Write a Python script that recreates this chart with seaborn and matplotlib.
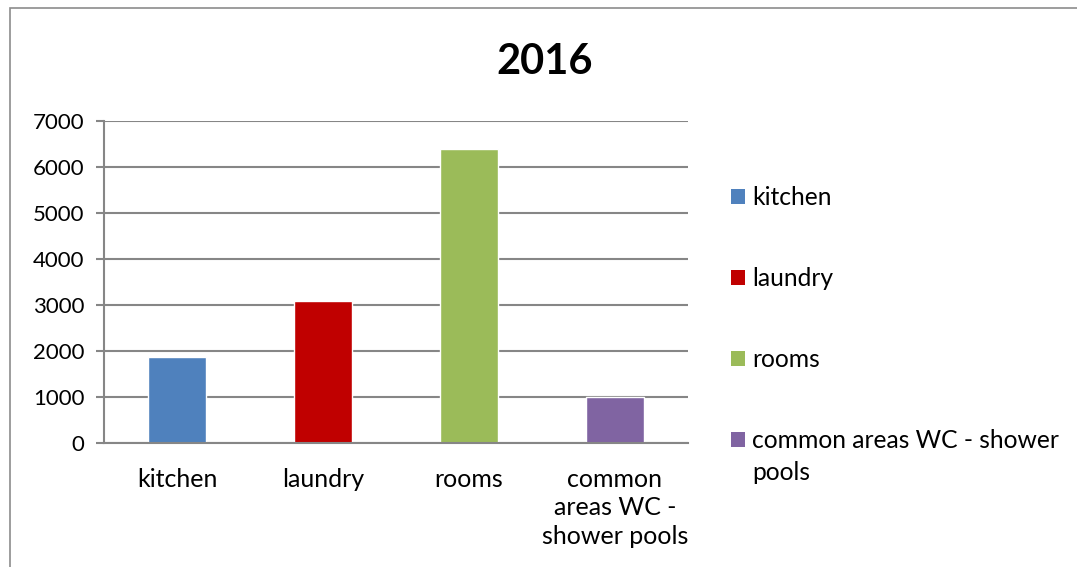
import matplotlib
matplotlib.use("Agg")
import matplotlib.pyplot as plt
import seaborn as sns
import pandas as pd
from matplotlib.patches import Rectangle

categories = ["kitchen", "laundry", "rooms", "common areas WC - shower pools"]
values = [1860, 3075, 6395, 995]
tick_labels = ["kitchen", "laundry", "rooms", "common\nareas WC -\nshower pools"]
legend_labels = ["kitchen", "laundry", "rooms", "common areas WC - shower"]
legend_wrap = "pools"
colors = ["#4F81BD", "#C00000", "#9BBB59", "#8064A2"]
title = "2016"
yticks = [0, 1000, 2000, 3000, 4000, 5000, 6000, 7000]

sns.set_theme(style="white")
plt.rcParams["font.family"] = ["Lato", "DejaVu Sans"]
plt.rcParams["text.color"] = "black"

W, H = 1077, 567
fig = plt.figure(figsize=(W / 100, H / 100), dpi=100)
ax = fig.add_axes([104 / W, 1 - 442.7 / H, (688 - 104) / W, (442.7 - 121) / H])

df = pd.DataFrame({"category": categories, "value": values})
sns.barplot(data=df, x="category", y="value", hue="category", palette=colors,
            width=0.4, dodge=False, legend=False, ax=ax, saturation=1)

grid_c = "#868686"
ax.set_ylim(0, 7000)
ax.set_xlim(-0.5, 3.5)
ax.set_yticks(yticks)
ax.set_yticklabels([str(v) for v in yticks], fontsize=16)
ax.yaxis.grid(True, color=grid_c, linewidth=1.5)
ax.set_axisbelow(True)
ax.set_xticks(range(len(categories)))
ax.set_xticklabels(tick_labels, fontsize=18, linespacing=1.3)
ax.set_xticks([-0.5, 0.5, 1.5, 2.5, 3.5], minor=True)
ax.tick_params(axis="x", which="major", length=0, pad=18, labelcolor="black")
ax.tick_params(axis="x", which="minor", length=6, width=1.5, color=grid_c, direction="out")
ax.tick_params(axis="y", length=6, width=1.5, color=grid_c, direction="out", pad=8,
               left=True, labelcolor="black")
ax.set_xlabel("")
ax.set_ylabel("")
for s in ["top", "right"]:
    ax.spines[s].set_visible(False)
ax.spines["left"].set_color(grid_c)
ax.spines["left"].set_linewidth(1.5)
ax.spines["bottom"].set_color(grid_c)
ax.spines["bottom"].set_linewidth(1.5)

handles = [Rectangle((0, 0), 1, 1, facecolor=c, edgecolor="none") for c in colors]
leg = fig.legend(handles, legend_labels, loc="upper left",
                 bbox_to_anchor=(721 / W, 1 - 176 / H), frameon=False,
                 fontsize=17.7, handlelength=0.56, handleheight=0.56,
                 handletextpad=0.3, labelspacing=2.36, borderaxespad=0)
last = leg.get_texts()[-1]
fig.canvas.draw()
ax.annotate(legend_wrap, xy=(0, 1), xycoords=last, xytext=(0, -23),
            textcoords="offset points", ha="left", va="top", fontsize=17.7,
            color="black", annotation_clip=False)

fig.text(545 / W, 1 - 62 / H, title, ha="center", va="center",
         fontsize=30, fontweight="bold")

fig.patches.append(Rectangle((10 / W, -0.1), 1.2, 1.1 - 8 / H, transform=fig.transFigure,
                             fill=False, edgecolor="#8C8C8C", linewidth=1.2))

fig.savefig("out.png", dpi=100, facecolor="white")
